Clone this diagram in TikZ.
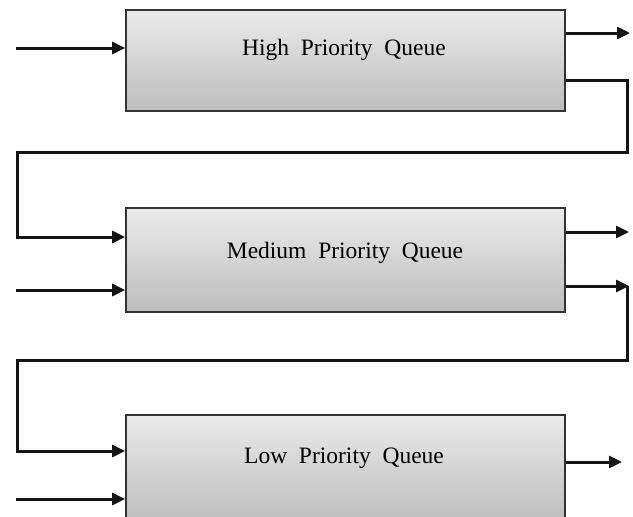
\documentclass[tikz,border=0pt]{standalone}
\usepackage{fontspec}
\setmainfont{Liberation Serif}
\usetikzlibrary{arrows.meta}
\begin{document}
\begin{tikzpicture}[x=1pt,y=-1pt,
  queue/.style={draw=black!80, line width=1.7pt, top color=black!8, bottom color=black!26,
    minimum width=439pt, inner sep=0pt},
  qlabel/.style={anchor=base, inner sep=0pt, font=\fontsize{23.5}{26}\selectfont, text=black},
  flow/.style={line width=3pt, draw=black!92, line join=miter,
    -{Triangle[length=13pt,width=12pt]}}]
  % page frame; the lowest queue runs off the bottom edge
  \clip (0,0) rectangle (633,517);

  % the three queues
  \node[queue, minimum height=101pt] (high) at (345.5,60.5) {};
  \node[queue, minimum height=104pt] (med)  at (345.5,260) {};
  \node[queue, minimum height=106pt] (low)  at (345.5,468) {};

  \node[qlabel] (highT) at (344,55)  {High\ \ Priority\ \ Queue};
  \node[qlabel] (medT)  at (345,258) {Medium\ \ Priority\ \ Queue};
  \node[qlabel] (lowT)  at (344,463) {Low\ \ Priority\ \ Queue};

  % high priority queue: input, output, overflow into the medium queue
  \coordinate (inH)  at (16,48);
  \coordinate (outH) at (630,33);
  \coordinate (hA)   at (627,80);
  \coordinate (hB)   at (17,152);
  \coordinate (hC)   at (17,237);
  \draw[flow] (inH) -- (inH -| high.west);
  \draw[flow] (outH -| high.east) -- (outH);
  \draw[flow] (hA -| high.east) -- (hA) |- (hB) |- (hC -| med.west);

  % medium priority queue: input, output, overflow into the low queue
  \coordinate (inM)  at (16,290);
  \coordinate (outM) at (629,232);
  \coordinate (mTip) at (629,286);
  \coordinate (mA)   at (627,286);
  \coordinate (mB)   at (17,360);
  \coordinate (mC)   at (17,451);
  \draw[flow] (inM) -- (inM -| med.west);
  \draw[flow] (outM -| med.east) -- (outM);
  \draw[flow] (mTip -| med.east) -- (mTip);
  \draw[flow] (mA) |- (mB) |- (mC -| low.west);

  % low priority queue: input and output
  \coordinate (inL)  at (16,499);
  \coordinate (outL) at (622,462);
  \draw[flow] (inL) -- (inL -| low.west);
  \draw[flow] (outL -| low.east) -- (outL);
\end{tikzpicture}
\end{document}
